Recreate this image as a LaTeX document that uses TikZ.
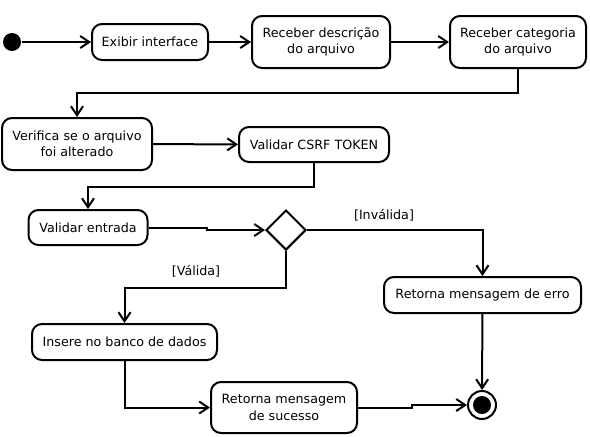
\documentclass[tikz,border=0pt]{standalone}
\usepackage{fontspec}
\setmainfont{DejaVu Sans}
\usepackage{tikz}
\usetikzlibrary{arrows.meta,shapes.geometric}

\begin{document}
\begin{tikzpicture}[x=1pt, y=-1pt, line width=2pt,
    >={Straight Barb[length=9pt, width=12pt]},
    acao/.style={draw, rounded corners=10pt, align=center, inner sep=0pt,
        font=\fontsize{12.7}{16.5}\selectfont},
    guarda/.style={inner sep=0pt, font=\fontsize{12.7}{16.5}\selectfont}]
    \useasboundingbox (0, 0) rectangle (590, 437);

    % Initial node
    \node [circle, fill=black, minimum size=18pt, inner sep=0pt] (ini) at (12, 42) {};

    % Actions, first row
    \node [acao, minimum width=116pt, minimum height=36pt] (exibir) at (150, 42) {Exibir interface};
    \node [acao, minimum width=138pt, minimum height=52pt] (descricao) at (321, 42) {Receber descrição\\do arquivo};
    \node [acao, minimum width=136pt, minimum height=52pt] (categoria) at (518, 42) {Receber categoria\\do arquivo};

    % Actions, second row
    \node [acao, minimum width=150pt, minimum height=52pt] (verifica) at (77, 144) {Verifica se o arquivo\\foi alterado};
    \node [acao, minimum width=150pt, minimum height=35pt] (csrf) at (314, 144.5) {Validar CSRF TOKEN};

    % Input check and decision
    \node [acao, minimum width=119pt, minimum height=35pt] (entrada) at (88, 227.5) {Validar entrada};
    \node [draw, diamond, aspect=1, minimum size=40pt, inner sep=0pt] (decisao) at (286, 230) {};
    \node [guarda] (valida) at (196, 271) {[Válida]};
    \node [guarda] (invalida) at (384, 215) {[Inválida]};

    % Outcomes
    \node [acao, minimum width=197pt, minimum height=36pt] (erro) at (482.5, 295) {Retorna mensagem de erro};
    \node [acao, minimum width=185pt, minimum height=36pt] (insere) at (124.5, 342) {Insere no banco de dados};
    \node [acao, minimum width=146pt, minimum height=51pt] (sucesso) at (284, 407.5) {Retorna mensagem\\de sucesso};

    % Final node
    \node [circle, draw, minimum size=28pt, inner sep=0pt] (fim) at (482, 405) {};
    \fill (fim.center) circle (9pt);

    % Flow
    \draw [->] (ini) -- (exibir);
    \draw [->] (exibir) -- (descricao);
    \draw [->] (descricao) -- (categoria);
    \draw [->] (categoria.south) -- ++(0, 24) -| (verifica.north);
    \draw [->] (verifica) -- (csrf);
    \draw [->] (csrf.south) -- ++(0, 24) -| (entrada.north);
    \draw [->] (entrada.east) -- ++(58, 0) |- (decisao.west);
    \draw [->] (decisao.south) -- ++(0, 37) -| (insere.north);
    \draw [->] (decisao.east) -| (erro.north);
    \draw [->] (insere.south) |- (sucesso.west);
    \draw [->] (sucesso.east) -- ++(54, 0) |- (fim.west);
    \draw [->] (erro) -- (fim);
\end{tikzpicture}
\end{document}
